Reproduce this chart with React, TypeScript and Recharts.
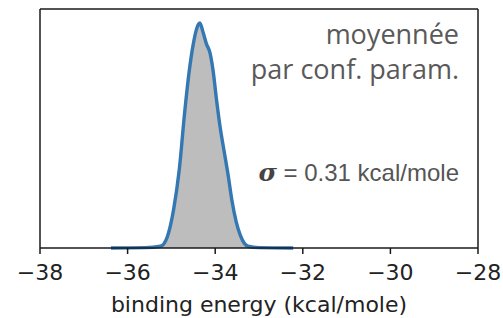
import { AreaChart, Area, XAxis, YAxis } from 'recharts'

// KDE of binding energy
const energy = [
  -36.38, -35.6, -35.25, -35.1, -34.95, -34.82, -34.7, -34.6, -34.5, -34.42,
  -34.35, -34.28, -34.2, -34.12, -34.05, -33.97, -33.88, -33.8, -33.7, -33.62,
  -33.52, -33.43, -33.33, -33.25, -33.0, -32.22,
]
const density = [
  0, 0.002, 0.01, 0.06, 0.22, 0.45, 0.77, 1.0, 1.17, 1.26,
  1.29, 1.24, 1.17, 1.12, 1.02, 0.85, 0.68, 0.56, 0.41, 0.275,
  0.15, 0.075, 0.025, 0.01, 0.002, 0,
]
const xTicks = [-38, -36, -34, -32, -30, -28]

const W = 503
const H = 318

const fmt = (v: number) => (v < 0 ? '\u2212' + Math.abs(v) : String(v))

export default function App() {
  const data = energy.map((e, i) => ({ energy: e, density: density[i] }))
  const axisStroke = '#1a1a1a'

  return (
    <div style={{ position: 'absolute', left: 0, top: 0, width: W, height: H, background: '#fff' }}>
      <AreaChart width={W} height={H} data={data} margin={{ top: 8, right: 24, left: 39, bottom: 8 }}>
        <XAxis
          xAxisId="b"
          dataKey="energy"
          type="number"
          domain={[-38, -28]}
          ticks={xTicks}
          tickFormatter={fmt}
          height={62}
          tickSize={6}
          tickMargin={10}
          stroke={axisStroke}
          strokeWidth={1.5}
          tick={{ fontSize: 22, fill: '#222', fontFamily: 'DejaVu Sans' }}
          interval={0}
        />
        <XAxis
          xAxisId="t"
          dataKey="energy"
          type="number"
          domain={[-38, -28]}
          orientation="top"
          height={1}
          tick={false}
          tickLine={false}
          stroke={axisStroke}
          strokeWidth={1.5}
        />
        <YAxis yAxisId="l" domain={[0, 1.37]} width={1} tick={false} tickLine={false} stroke={axisStroke} strokeWidth={1.5} />
        <YAxis yAxisId="r" orientation="right" domain={[0, 1.37]} width={1} tick={false} tickLine={false} stroke={axisStroke} strokeWidth={1.5} />
        <Area
          xAxisId="b"
          yAxisId="l"
          dataKey="density"
          type="monotone"
          stroke="#3377b3"
          strokeWidth={3.4}
          fill="#bdbdbd"
          fillOpacity={1}
          isAnimationActive={false}
        />
      </AreaChart>
      <svg width={W} height={H} style={{ position: 'absolute', left: 0, top: 0, pointerEvents: 'none' }}>
        <text x={459} y={44} textAnchor="end" fontSize={27} fill="#595959" fontFamily="Open Sans">moyennée</text>
        <text x={459} y={79} textAnchor="end" fontSize={27} fill="#595959" fontFamily="Open Sans">par conf. param.</text>
        <text x={459} y={181} textAnchor="end" fill="#555" fontFamily="Liberation Sans" fontSize={24}>
          <tspan fontFamily="DejaVu Serif" fontWeight="bold" fontStyle="italic" fontSize={25} fill="#444">σ</tspan>
          <tspan> = 0.31 kcal/mole</tspan>
        </text>
        <text x={259} y={312} textAnchor="middle" fontSize={22} fill="#222" fontFamily="DejaVu Sans">binding energy (kcal/mole)</text>
      </svg>
    </div>
  )
}
